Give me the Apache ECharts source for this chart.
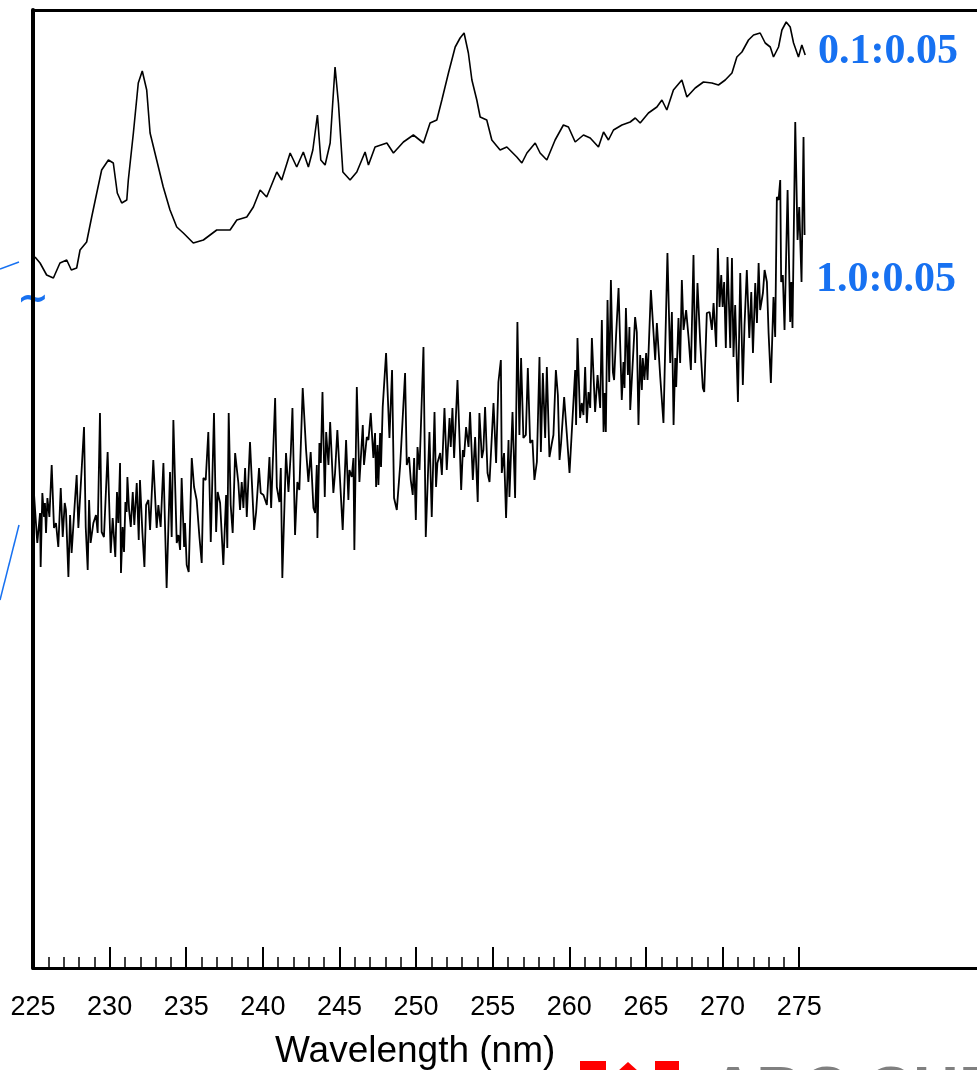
<!DOCTYPE html>
<html>
<head>
<meta charset="utf-8">
<script src="https://cdn.jsdelivr.net/npm/echarts@6/dist/echarts.min.js"></script>
<style>
html,body{margin:0;padding:0;background:#fff;}
#chart{width:977px;height:1070px;}
</style>
</head>
<body>
<div id="chart"></div>
<script>
// spectrum 0.1:0.05 (upper trace)
var wlTop = [225.13,225.46,225.89,226.33,226.76,227.20,227.50,227.85,228.07,228.50,228.83,229.16,229.48,229.92,230.24,230.50,230.79,231.12,231.22,231.55,231.87,232.13,232.42,232.64,233.07,233.50,233.94,234.38,234.81,235.46,236.12,236.99,237.86,238.30,238.95,239.38,239.82,240.25,240.91,241.23,241.78,242.21,242.64,242.97,243.26,243.56,243.78,244.06,244.39,244.71,244.93,245.22,245.69,246.13,246.67,246.89,247.32,248.09,248.52,249.17,249.82,250.48,250.91,251.35,251.68,252.11,252.55,252.87,253.13,253.41,253.64,253.96,254.18,254.61,254.94,255.48,255.92,256.57,256.90,257.23,257.77,258.09,258.53,259.07,259.61,259.94,260.38,260.92,261.36,261.90,262.23,262.55,262.88,263.43,263.97,264.30,264.62,265.16,265.71,266.04,266.36,266.79,267.34,267.67,268.21,268.75,269.30,269.73,270.17,270.61,270.93,271.26,271.69,272.02,272.45,272.78,273.11,273.32,273.65,273.87,274.15,274.41,274.63,274.95,275.17,275.39];
var intTop = [711,705,693,690,705,708,698,700,718,726,751,775,798,808,805,775,765,768,788,835,885,897,878,835,808,781,758,741,735,725,728,738,738,748,751,761,778,771,796,788,815,801,816,801,818,853,808,803,825,901,865,796,788,796,816,803,821,825,815,826,833,825,845,848,868,895,921,930,935,915,888,868,851,848,828,818,821,811,805,815,825,815,808,828,843,841,826,833,830,821,836,828,838,843,846,850,845,855,861,868,858,878,888,871,880,886,885,883,888,895,911,916,928,933,935,925,921,911,921,938,946,941,925,911,923,913];

// spectrum 1.0:0.05 (lower, noisy trace)
var wlLow = [225.07,225.28,225.46,225.50,225.61,225.72,225.78,225.85,225.94,226.07,226.22,226.37,226.50,226.65,226.81,226.94,227.07,227.15,227.31,227.42,227.52,227.74,227.85,227.96,228.07,228.18,228.33,228.44,228.57,228.66,228.76,228.94,229.11,229.22,229.37,229.48,229.63,229.87,230.07,230.20,230.37,230.48,230.57,230.68,230.74,230.85,230.94,231.03,231.11,231.16,231.27,231.38,231.51,231.61,231.77,231.90,231.98,232.14,232.27,232.38,232.53,232.64,232.85,233.07,233.18,233.33,233.51,233.72,233.94,234.05,234.16,234.38,234.49,234.60,234.70,234.86,234.92,235.03,235.16,235.36,235.51,235.68,235.86,236.01,236.12,236.27,236.44,236.60,236.81,236.95,237.05,237.21,237.42,237.60,237.68,237.77,237.90,238.03,238.19,238.40,238.51,238.62,238.73,238.84,238.95,239.16,239.43,239.56,239.75,239.86,240.04,240.26,240.43,240.54,240.80,240.91,241.08,241.17,241.27,241.51,241.67,241.82,241.93,242.10,242.25,242.38,242.60,242.82,242.97,243.12,243.30,243.41,243.52,243.56,243.69,243.78,243.89,244.04,244.13,244.28,244.39,244.60,244.71,244.86,244.99,245.21,245.43,245.58,245.65,245.80,245.91,245.97,246.13,246.30,246.52,246.60,246.78,246.89,247.04,247.21,247.32,247.39,247.48,247.54,247.65,247.71,247.82,248.04,248.13,248.26,248.43,248.56,248.74,248.96,249.28,249.39,249.54,249.65,249.78,249.87,249.98,250.09,250.22,250.48,250.63,250.87,251.02,251.20,251.30,251.39,251.57,251.68,251.85,252.00,252.18,252.26,252.37,252.48,252.70,252.83,252.94,253.05,253.13,253.26,253.42,253.52,253.70,253.85,254.02,254.13,254.29,254.39,254.50,254.66,254.79,255.05,255.22,255.37,255.53,255.59,255.74,255.87,256.03,256.09,256.29,256.46,256.61,256.74,256.85,257.00,257.16,257.29,257.44,257.59,257.72,257.88,258.05,258.14,258.27,258.42,258.53,258.70,258.86,258.96,259.12,259.25,259.36,259.46,259.66,259.83,260.01,260.38,260.44,260.53,260.70,260.81,260.92,261.03,261.14,261.25,261.36,261.47,261.68,261.84,262.01,262.12,262.23,262.31,262.38,262.49,262.60,262.71,262.84,262.92,263.05,263.21,263.42,263.53,263.60,263.69,263.82,263.92,263.97,264.19,264.29,264.40,264.51,264.62,264.73,264.79,264.90,265.01,265.10,265.32,265.60,265.71,265.93,266.14,266.40,266.58,266.69,266.80,266.91,266.97,267.12,267.23,267.34,267.45,267.62,267.78,267.93,268.10,268.21,268.36,268.54,268.71,268.80,268.97,269.15,269.30,269.41,269.58,269.69,269.80,269.91,270.00,270.10,270.21,270.32,270.50,270.61,270.71,270.82,271.00,271.15,271.32,271.43,271.58,271.74,271.87,271.98,272.13,272.24,272.35,272.45,272.63,272.74,272.89,273.00,273.15,273.32,273.43,273.54,273.65,273.76,273.82,273.93,274.04,274.24,274.41,274.48,274.56,274.74,274.89,275.00,275.15,275.28,275.35];
var intLow = [473,425,455,401,475,451,465,435,470,451,503,440,445,421,480,431,465,458,391,453,415,468,493,440,470,471,541,441,398,468,425,445,453,435,555,436,431,516,415,450,411,476,445,505,395,441,416,466,456,491,458,441,476,443,485,428,488,435,401,463,468,438,508,440,463,441,505,380,496,431,548,425,433,418,490,421,445,403,396,510,481,468,431,405,490,488,536,426,555,436,476,465,403,473,420,555,463,435,515,485,458,486,460,500,451,526,438,456,500,475,473,463,511,460,570,481,466,500,390,515,476,515,560,433,486,478,580,518,486,516,460,455,503,430,525,505,576,471,536,503,546,475,495,538,501,438,528,468,498,491,510,418,581,486,543,503,531,528,555,510,535,481,523,483,535,501,561,615,615,530,598,470,458,503,595,503,511,488,473,510,448,521,498,621,431,536,451,556,481,505,515,493,560,498,550,521,560,510,588,531,478,518,511,541,521,556,488,531,466,555,510,518,561,495,486,565,505,586,608,495,515,450,528,471,556,470,646,533,610,530,533,600,525,528,488,506,611,516,595,530,601,511,525,533,598,573,508,525,571,535,495,598,543,630,550,565,553,601,545,576,560,630,556,593,560,648,536,575,536,668,586,688,596,588,633,680,568,606,580,660,593,641,558,621,651,636,543,613,578,610,588,615,588,678,608,645,591,545,715,605,656,543,610,581,650,605,688,638,658,630,598,713,605,685,625,580,576,655,656,638,665,621,720,661,693,661,686,620,711,620,710,611,663,566,695,583,643,698,630,676,615,685,645,705,658,675,698,686,635,585,671,631,771,768,788,686,693,638,778,646,686,640,846,728,761,686,831,733];

var majorTicks = [225,230,235,240,245,250,255,260,265,270,275];
var minorTicks = [226,227,228,229,231,232,233,234,236,237,238,239,241,242,243,244,246,247,248,249,251,252,253,254,256,257,258,259,261,262,263,264,266,267,268,269,271,272,273,274];
var traceNames = ['0.1:0.05', '1.0:0.05'];

function pairs(xs, ys) {
	var out = [];
	for (var i = 0; i < xs.length; i++) out.push([xs[i], ys[i]]);
	return out;
}

var chart = echarts.init(document.getElementById('chart'));
var blue = '#1771f1';
// axis runs off the right edge of the picture
var xMin = 225, xMax = 286.6;

var option = {
	animation: false,
	backgroundColor: '#fff',
	grid: {left: 33, top: 10, right: 0, height: 958},
	xAxis: [{
		type: 'value', min: xMin, max: xMax, position: 'bottom', offset: 0,
		axisLine: {lineStyle: {color: '#000', width: 3}},
		axisTick: {inside: true, length: 21, customValues: majorTicks, lineStyle: {color: '#000', width: 2}},
		axisLabel: {customValues: majorTicks, fontSize: 27, fontFamily: 'Liberation Sans, Arial', color: '#000', margin: 26},
		splitLine: {show: false}
	}, {
		type: 'value', min: xMin, max: xMax, position: 'bottom', offset: 0,
		axisLine: {show: false},
		axisTick: {inside: true, length: 11, customValues: minorTicks, lineStyle: {color: '#000', width: 1.5}},
		axisLabel: {show: false},
		splitLine: {show: false}
	}, {
		type: 'value', min: xMin, max: xMax, position: 'top', offset: 0,
		axisLine: {lineStyle: {color: '#000', width: 3}},
		axisTick: {show: false},
		axisLabel: {show: false},
		splitLine: {show: false}
	}],
	yAxis: {
		type: 'value', min: 0, max: 958,
		axisLine: {show: true, lineStyle: {color: '#000', width: 4}},
		axisTick: {show: false},
		axisLabel: {show: false},
		splitLine: {show: false}
	},
	series: [{
		name: traceNames[0], type: 'line', showSymbol: false, symbol: 'none',
		lineStyle: {color: '#000', width: 1.6},
		data: pairs(wlTop, intTop)
	}, {
		name: traceNames[1], type: 'line', showSymbol: false, symbol: 'none',
		lineStyle: {color: '#000', width: 1.8},
		data: pairs(wlLow, intLow)
	}],
	graphic: [
		{type: 'text', x: 275, y: 1052, style: {text: 'Wavelength (nm)', font: '37px "Liberation Sans", Arial', fill: '#000', verticalAlign: 'middle'}},
		{type: 'text', x: 818, y: 52, style: {text: traceNames[0], font: 'bold 42px "Liberation Serif", "Times New Roman", serif', fill: blue, verticalAlign: 'middle'}},
		{type: 'text', x: 816, y: 280, style: {text: traceNames[1], font: 'bold 42px "Liberation Serif", "Times New Roman", serif', fill: blue, verticalAlign: 'middle'}},
		// axis break marks
		{type: 'line', shape: {x1: 0, y1: 269, x2: 19, y2: 262}, style: {stroke: blue, lineWidth: 1.5}},
		{type: 'line', shape: {x1: 19, y1: 525, x2: 0, y2: 600}, style: {stroke: blue, lineWidth: 1.5}},
		{type: 'text', x: 17, y: 300, style: {text: '~', font: 'bold 38px "DejaVu Sans"', fill: blue, verticalAlign: 'middle'}},
		// cut-off logo at the bottom
		{type: 'rect', shape: {x: 580, y: 1061, width: 26, height: 10}, style: {fill: '#ff0000'}},
		{type: 'polygon', shape: {points: [[618, 1071], [628, 1062], [638, 1071]]}, style: {fill: '#ff0000'}},
		{type: 'rect', shape: {x: 655, y: 1061, width: 24, height: 10}, style: {fill: '#ff0000'}},
		{type: 'text', x: 710, y: 1062, style: {text: 'ABC CHEM', font: 'bold 64px "Liberation Sans", Arial', fill: '#808080', verticalAlign: 'top'}}
	]
};
chart.setOption(option);
</script>
</body>
</html>
